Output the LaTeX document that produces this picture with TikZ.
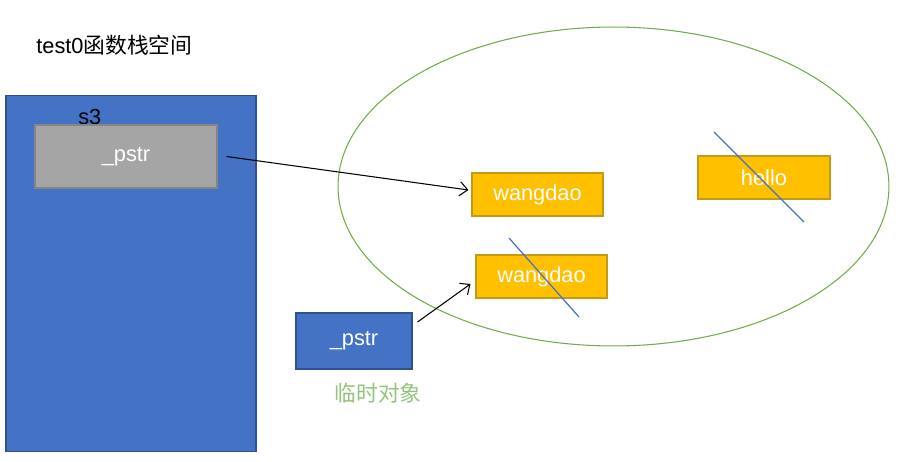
\documentclass[tikz,border=0pt]{standalone}
\usepackage{fontspec}
\setmainfont{Liberation Sans}
\newfontfamily\cjk{Noto Sans CJK SC}
\usetikzlibrary{arrows.meta,shapes.geometric}
\definecolor{ublue}{HTML}{4472C4}
\definecolor{ubluedk}{HTML}{2F528F}
\definecolor{ugray}{HTML}{A5A5A5}
\definecolor{ugraydk}{HTML}{858585}
\definecolor{uyel}{HTML}{FFC000}
\definecolor{uyeldk}{HTML}{C49A14}
\definecolor{ugreen}{HTML}{70AD47}
\definecolor{ugtext}{HTML}{94C47C}
\tikzset{
  txt/.style={font=\fontsize{12.4}{14}\selectfont, inner sep=0pt},
  box/.style={txt, draw, line width=0.6pt, text=white, minimum width=#1},
  strbox/.style={box=2.62cm, fill=uyel, draw=uyeldk, minimum height=0.86cm},
  strike/.style={ublue, line width=0.7pt},
  ptr/.style={line width=0.6pt, -{Straight Barb[length=4.5pt,width=8pt]}},
}
\begin{document}
\begin{tikzpicture}[x=0.02cm, y=-0.02cm]
\useasboundingbox (0,0) rectangle (900,462);
% title
\node[txt, anchor=west] (title) at (36,45) {test0{\cjk 函数栈空间}};
% stack frame
\node[box=5cm, fill=ublue, draw=ubluedk, minimum height=7.14cm] (stack) at (131,273.5) {};
\node[txt, anchor=west] (s3) at (78,117) {s3};
\node[box=3.64cm, fill=ugray, draw=ugraydk, minimum height=1.26cm] (p1) at (126,156.5) {\_pstr};
% heap
\node[draw=ugreen, line width=0.6pt, ellipse, minimum width=11.02cm, minimum height=6.38cm, inner sep=0pt] (heap) at (613.5,186.5) {};
\node[strbox] (w1) at (537.5,194.5) {wangdao};
\node[strbox] (w2) at (541.5,276.5) {wangdao};
\node[strbox, minimum width=2.64cm] (h) at (764,177.5) {hello};
% temporary
\node[box=2.32cm, fill=ublue, draw=ubluedk, minimum height=1.12cm] (tmp) at (354,341) {\_pstr};
\node[txt, text=ugtext] (tmplbl) at (378,393) {\cjk 临时对象};
% strike lines
\coordinate (hs1) at (714,132); \coordinate (hs2) at (804,222);
\coordinate (ws1) at (509,238); \coordinate (ws2) at (579,317);
\draw[strike] (hs1) -- (hs2);
\draw[strike] (ws1) -- (ws2);
% pointers
\draw[ptr] ([xshift=0.18cm]p1.east) -- ([xshift=-0.06cm,yshift=0.09cm]w1.west);
\draw[ptr] ([xshift=0.1cm,yshift=0.38cm]tmp.east) -- ([xshift=-0.1cm,yshift=-0.15cm]w2.west);
\end{tikzpicture}
\end{document}
